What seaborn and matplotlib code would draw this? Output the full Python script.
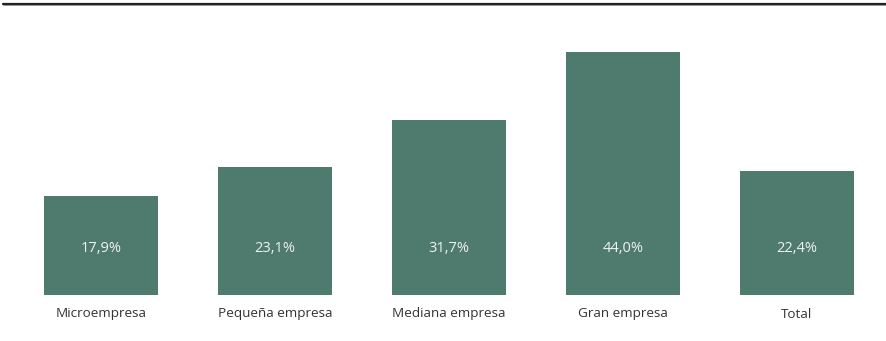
import matplotlib
matplotlib.use("Agg")
import matplotlib.pyplot as plt
from matplotlib.lines import Line2D
import seaborn as sns
import pandas as pd

categories = ["Microempresa", "Pequeña empresa", "Mediana empresa", "Gran empresa", "Total"]
values = [17.9, 23.1, 31.7, 44.0, 22.4]
value_labels = ["17,9%", "23,1%", "31,7%", "44,0%", "22,4%"]

sns.set_theme(style="white")
plt.rcParams["font.family"] = ["Open Sans", "DejaVu Sans"]

df = pd.DataFrame({"cat": categories, "val": values})

fig = plt.figure(figsize=(8.86, 3.41), dpi=100)
ax = fig.add_axes([14 / 886, 46 / 341, 870 / 886, 292 / 341])
sns.barplot(data=df, x="cat", y="val", color="#4f7b6e", saturation=1, width=0.655,
            linewidth=0, edgecolor="none", ax=ax)
ax.set_xlim(-0.5, 4.5)
ax.set_ylim(0, 292 / 5.52)
for s in ax.spines.values():
    s.set_visible(False)
ax.set_yticks([])
ax.set_xlabel("")
ax.set_ylabel("")
ax.tick_params(axis="x", length=0, pad=9, labelsize=9.7, labelcolor="#333333")

for i, lab in enumerate(value_labels):
    ax.text(i, 47 / 5.52, lab, ha="center", va="center", color="#eef2f0", fontsize=10.5)

fig.add_artist(Line2D([3 / 886, 1], [1 - 3.5 / 341, 1 - 3.5 / 341], color="#222222", lw=1.6, transform=fig.transFigure))
fig.add_artist(Line2D([3 / 886, 1], [1 - 5.2 / 341, 1 - 5.2 / 341], color="#888888", lw=0.6, transform=fig.transFigure))

fig.savefig("out.png", dpi=100, facecolor="white")
